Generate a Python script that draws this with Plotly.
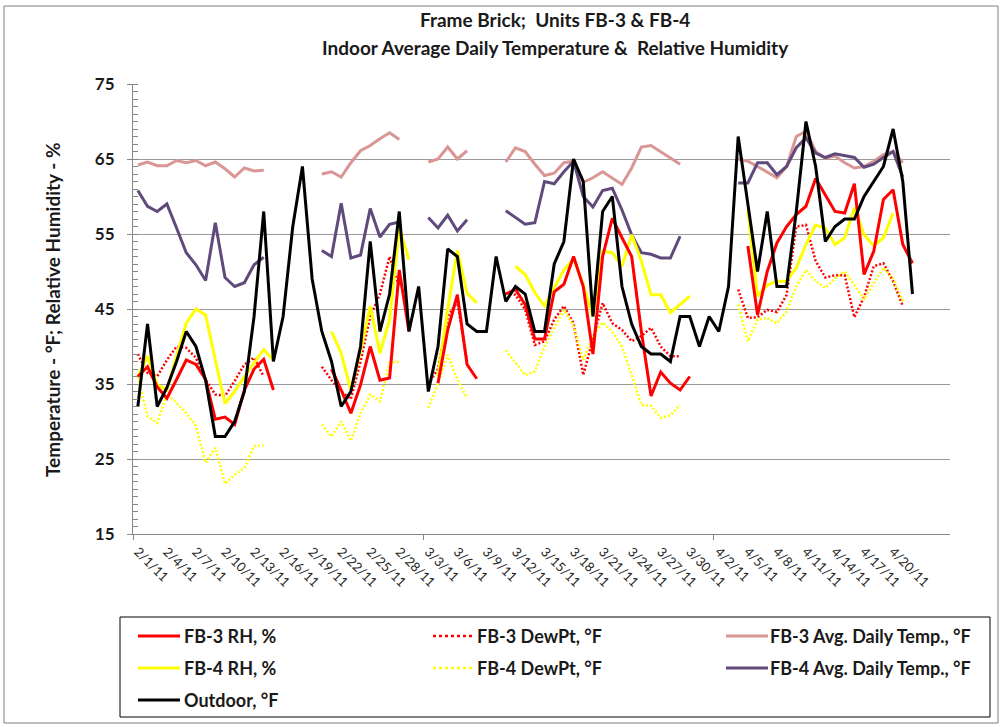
import plotly.graph_objects as go
import pandas as pd

N = None
dates = pd.date_range("2011-02-01", "2011-04-22", freq="D")

fb3_rh = [36, 37.3, 34.6, 33.1, 35.6, 38.2, 37.6, 35.6, 30.3, 30.6, 29.6, 34.2, 37.0, 38.3, 34.2,
          N, N, N, N, N,
          37, 34.2, 31.1, 34.9, 40.0, 35.5, 35.8, 50.2, 42,
          N, N,
          35.1, 42.2, 46.9, 37.6, 35.7,
          N, N,
          47, 47.6, 45.6, 41, 41, 47.3, 48.3, 52.0, 48, 39, 52, 57.1, 54.5, 52.0, 42, 33.4, 36.6, 35.1, 34.2, 36.0,
          N, N, N, N, N,
          53.4, 44.2, 50.0, 53.8, 56.0, 57.6, 58.7, 62.4, 60.2, 58.0, 57.8, 61.7, 49.6, 52.7, 59.6, 60.9, 53.6, 51.1]

fb3_dew = [39.0, 36.5, 36.0, 38.2, 40.0, 39.8, 38.5, 35.6, 33.6, 33.4, 35.4, 37.6, 38.5, 36.0,
           N, N, N, N, N,
           37.3, 35.5, 34, 33, 38, 44, 47, 52, 48,
           N, N,
           35, 37, 44, 46, 38,
           N, N, N,
           47.1, 46.9, 44.9, 40.2, 40.7, 43.6, 45.4, 43.1, 36.2, 40.9, 45.8, 43.1, 42.2, 40.7, 41.4, 42.5, 40.0, 38.7, 38.7,
           N, N, N, N, N,
           47.6, 43.8, 43.9, 44.9, 44.6, 46.9, 56.0, 56.2, 51.4, 49.2, 49.5, 49.5, 43.9, 46.6, 50.7, 51.1, 48.7, 45.4,
           N]

fb3_avg = [64.2, 64.6, 64.1, 64.1, 64.8, 64.5, 64.8, 64.1, 64.6, 63.7, 62.6, 63.8, 63.4, 63.5,
           N, N, N, N, N,
           63.0, 63.3, 62.6, 64.5, 66.1, 66.8, 67.7, 68.5, 67.6,
           N, N,
           64.6, 65.0, 66.6, 65.0, 66.1,
           N, N, N,
           64.6, 66.5, 66.0, 64.3, 62.8, 63.1, 64.5, 64.7, 61.9, 62.5, 63.3, 62.4, 61.6, 63.8, 66.6, 66.8, 66.0, 65.2, 64.3,
           N, N, N, N, N,
           65.0, 64.7, 64.0, 63.3, 62.5, 64.0, 68.0, 68.7, 66.0, 65.1, 65.4, 64.5, 63.8, 64.0, 64.7, 65.6, 66.0, 64.5,
           N]

fb4_rh = [36.0, 38.7, 34.9, 34.2, 38.7, 43.1, 45.0, 44.2, 38.2, 32.4, 34.0, 36.0, 37.8, 39.6, 38.2,
          N, N, N, N, N,
          42.0, 39.1, 34.2, 39.4, 45.4, 39.1, 43.6, 55.8, 51.6,
          N, N,
          36, 45, 52.8, 47.1, 45.8,
          N, N, N,
          50.7, 49.6, 47.2, 45.4, 47.8, 50.2, 51.7, 48.2, 44.0, 52.7, 52.5, 50.7, 54.9, 51.4, 46.9, 46.9, 44.5, 45.6, 46.7,
          N, N, N, N, N,
          58.2, 46.7, 48.2, 48.7, 48.7, 50.5, 53.6, 56.2, 55.8, 53.6, 54.5, 58.5, 54.9, 53.4, 54.5, 57.8,
          N, N]

fb4_dew = [36.0, 30.7, 29.8, 33.6, 32.5, 31.1, 29.4, 24.5, 26.5, 21.7, 22.9, 23.8, 26.7, 26.8,
           N, N, N, N, N,
           29.6, 28.0, 30.0, 27.4, 31.1, 33.6, 32.7, 37.8, 38.0,
           N, N,
           31.8, 35.1, 38.9, 35.6, 33.1,
           N, N, N,
           39.5, 37.8, 36.2, 36.7, 40.0, 42.5, 44.9, 42.7, 38.2, 41.4, 43.2, 42.0, 40.0, 36.2, 32.2, 32.1, 30.5, 30.8, 32.2,
           N, N, N, N, N,
           45.6, 40.7, 43.6, 43.8, 43.1, 44.7, 48.0, 50.2, 48.7, 47.8, 49.1, 50.0, 48.2, 46.3, 48.5, 50.5, 49.0, 46.0,
           N]

fb4_avg = [60.8, 58.7, 58.0, 59.0, 55.8, 52.5, 50.9, 48.8, 56.5, 49.2, 48.0, 48.5, 50.9, 51.9,
           N, N, N, N, N,
           52.8, 52.0, 59.1, 51.8, 52.2, 58.4, 54.6, 56.3, 56.6,
           N, N,
           57.2, 55.8, 57.5, 55.4, 56.9,
           N, N, N,
           58.1, 57.2, 56.3, 56.5, 62.0, 61.7, 63.3, 64.7, 60.0, 58.6, 60.8, 61.1, 58.2, 54.9, 52.5, 52.3, 51.8, 51.8, 54.7,
           N, N, N, N, N,
           61.8, 61.8, 64.5, 64.5, 62.9, 64.0, 66.5, 67.8, 65.8, 65.2, 65.7, 65.4, 65.2, 63.9, 64.3, 65.2, 66.0, 62.6,
           N]

outdoor = [32, 43, 32, 34.5, 38, 42, 40, 35.5, 28, 28, 30, 34, 44, 58, 38, 44, 56, 64, 49, 42,
           38, 32, 34, 40, 54, 42, 47, 58, 42, 48, 34, 40, 53, 52, 43, 42, 42, 52, 46, 48,
           47, 42, 42, 51, 54, 65, 62, 44, 58, 60, 48, 43, 40, 39, 39, 38, 44, 44, 40, 44,
           42, 48, 68, 59, 50, 58, 48, 48, 58, 70, 64, 54, 56, 57, 57, 60, 62, 64, 69, 62, 47]

tick_dates = dates[::3]
tick_text = [f"{d.month}/{d.day}/11" for d in tick_dates]

series = [
    ("FB-3 RH, %", fb3_rh, "#FF0000", "solid"),
    ("FB-3 DewPt, °F", fb3_dew, "#FF0000", "2px,2px"),
    ("FB-3 Avg. Daily Temp., °F", fb3_avg, "#D99694", "solid"),
    ("FB-4 RH, %", fb4_rh, "#FFFF00", "solid"),
    ("FB-4 DewPt, °F", fb4_dew, "#FFFF00", "2px,2px"),
    ("FB-4 Avg. Daily Temp., °F", fb4_avg, "#604A7B", "solid"),
    ("Outdoor, °F", outdoor, "#000000", "solid"),
]

W, H = 1002, 727
L, R, T, B = 133, 52, 84, 193
PW, PH = W - L - R, H - T - B

def px(x):
    return (x - L) / PW

def py(y):
    return (H - B - y) / PH

fig = go.Figure()
draw_order = [2, 5, 1, 4, 3, 0, 6]
for i in draw_order:
    name, vals, col, dash = series[i]
    fig.add_trace(go.Scatter(
        x=dates, y=vals, name=name, mode="lines", showlegend=False,
        line=dict(color=col, width=3 if dash == "solid" else 2.5, dash=dash),
        connectgaps=False,
    ))

FONT = "Lato"
TXT = "#1a1a1a"
shapes = []
annotations = []

annotations.append(dict(x=px(555), y=py(19), xref="paper", yref="paper",
                        text="<b>Frame Brick;  Units FB-3 & FB-4</b>", showarrow=False,
                        font=dict(family=FONT, size=19, color=TXT), xanchor="center", yanchor="middle"))
annotations.append(dict(x=px(555), y=py(47), xref="paper", yref="paper",
                        text="<b>Indoor Average Daily Temperature &  Relative Humidity</b>", showarrow=False,
                        font=dict(family=FONT, size=19, color=TXT), xanchor="center", yanchor="middle"))
annotations.append(dict(x=px(52), y=py(310), xref="paper", yref="paper",
                        text="<b>Temperature - °F; Relative Humidity - %</b>", showarrow=False, textangle=-90,
                        font=dict(family=FONT, size=19, color=TXT), xanchor="center", yanchor="middle"))

shapes.append(dict(type="rect", xref="paper", yref="paper", x0=px(4), x1=px(998), y0=py(723), y1=py(6),
                   line=dict(color="#7f7f7f", width=1), fillcolor="rgba(0,0,0,0)"))
shapes.append(dict(type="rect", xref="paper", yref="paper", x0=px(120), x1=px(990), y0=py(717), y1=py(617),
                   line=dict(color="#000000", width=1), fillcolor="rgba(0,0,0,0)"))

col_line_x = [138, 433, 726]
col_text_x = [182, 475, 768]
row_y = [636, 668, 700]
legend_pos = [(0, 0), (0, 1), (0, 2), (1, 0), (1, 1), (1, 2), (2, 0)]
for (name, vals, col, dash), (r, c) in zip(series, legend_pos):
    yy = py(row_y[r])
    shapes.append(dict(type="line", xref="paper", yref="paper",
                       x0=px(col_line_x[c]), x1=px(col_line_x[c] + 42), y0=yy, y1=yy,
                       line=dict(color=col, width=3 if dash == "solid" else 2.5,
                                 dash="solid" if dash == "solid" else "dot")))
    annotations.append(dict(x=px(col_text_x[c]), y=yy, xref="paper", yref="paper", text="<b>" + name + "</b>",
                            showarrow=False, xanchor="left", yanchor="middle",
                            font=dict(family=FONT, size=18, color=TXT)))

x0 = pd.Timestamp("2011-01-31 12:00")
x1 = x0 + pd.Timedelta(days=PW / 9.683)

fig.update_layout(
    width=W, height=H, margin=dict(l=L, r=R, t=T, b=B),
    paper_bgcolor="white", plot_bgcolor="white",
    showlegend=False, shapes=shapes, annotations=annotations,
    xaxis=dict(type="date", range=[x0, x1], tickmode="array", tickvals=tick_dates, ticktext=tick_text,
               tickangle=45, ticks="", showgrid=False, showline=True, linecolor="#868686", linewidth=1,
               tickfont=dict(family=FONT, size=13, color="#262626"), zeroline=False, ticklabelstandoff=4,
               minor=dict(tickmode="array", ticks="outside", ticklen=5, tickcolor="#868686",
                          tickvals=[x0, x0 + pd.Timedelta(days=30), x0 + pd.Timedelta(days=60)])),
    yaxis=dict(range=[15, 75], tickmode="linear", tick0=15, dtick=10, showgrid=True, gridcolor="#9a9a9a",
               gridwidth=1, showline=True, linecolor="#868686", linewidth=1, ticks="outside", ticklen=5,
               tickcolor="#868686", zeroline=False, ticklabelstandoff=9,
               tickfont=dict(family=FONT, size=17, color=TXT), tickprefix="<b>", ticksuffix="</b>",
               minor=dict(ticks="inside", dtick=1, ticklen=5, tickcolor="#868686", showgrid=False)),
)

fig.write_html("out.html", config={"displayModeBar": False, "staticPlot": True},
               post_script="document.body.style.margin='0';document.body.style.overflow='hidden';")
